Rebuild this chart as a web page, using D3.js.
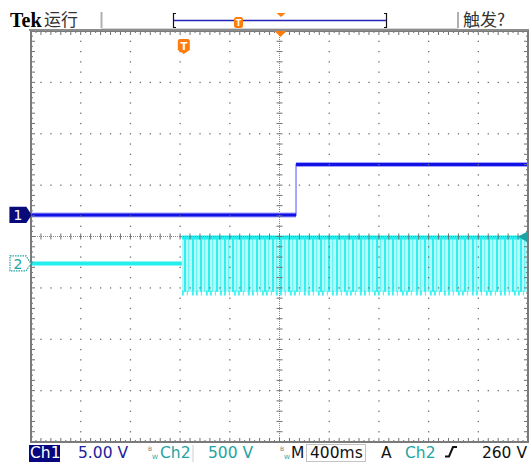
<!DOCTYPE html>
<html>
<head>
<meta charset="utf-8">
<script src="https://cdn.jsdelivr.net/npm/d3@7"></script>
<style>
  body { margin: 0; background: #fff; }
  svg { display: block; }
</style>
</head>
<body>
<svg id="scope" width="530" height="462"></svg>
<script>
// ---- Acquisition settings ----
const timePerDiv = 0.4;              // s/div  (M 400ms)
const timeWindow = [-1.23, 2.77];    // s, relative to trigger
const hDivs = 10, vDivs = 8;

// Channel 1: 5 V/div, ground marker 0.42 div above centre
const ch1VoltsPerDiv = 5;
const ch1Position = 0.42;            // div
const ch1Time  = [-1.23, 0.903, 2.77];
const ch1Volts = [0,     4.9,   4.9];

// Channel 2: 500 V/div, ground marker 0.525 div below centre
const ch2VoltsPerDiv = 500;
const ch2Position = -0.525;          // div
const ch2IdleTime  = [-1.23, -0.016];
const ch2IdleVolts = [0, 0];
const ch2SwitchStart = -0.016;       // s
const ch2SwitchEnd   = 2.77;         // s
const ch2SwitchHigh  = 267;          // V
const ch2SwitchLow   = -277;         // V

// Trigger
const triggerSource = "Ch2";
const triggerLevel  = 260;           // V

// Status texts
const statusLeft  = ["Tek", "运行"];
const statusRight = "触发?";

// ---- Layout ----
const L = 31, R = 528, T = 31, B = 442;
const svg = d3.select("#scope");

const x  = d3.scaleLinear().domain(timeWindow).range([L, R]);
const y1 = d3.scaleLinear()
  .domain([(-vDivs / 2 - ch1Position) * ch1VoltsPerDiv, (vDivs / 2 - ch1Position) * ch1VoltsPerDiv])
  .range([B, T]);
const y2 = d3.scaleLinear()
  .domain([(-vDivs / 2 - ch2Position) * ch2VoltsPerDiv, (vDivs / 2 - ch2Position) * ch2VoltsPerDiv])
  .range([B, T]);
const gx = d3.scaleLinear().domain([0, hDivs]).range([L, R]);
const gy = d3.scaleLinear().domain([0, vDivs]).range([T, B]);

const C1 = "#1212e6", C1dark = "#0a0a7a", C2 = "#22eeee", C2text = "#1ea3a3", ORANGE = "#ff7d0a";

// ---- Stripe texture for the fast Ch2 switching ----
const defs = svg.append("defs");
const pat = defs.append("pattern")
  .attr("id", "ch2fill").attr("patternUnits", "userSpaceOnUse")
  .attr("width", 8).attr("height", 80);
pat.append("rect").attr("width", 8).attr("height", 80).attr("fill", "#b6f7f7");
pat.append("rect").attr("x", 0).attr("width", 2).attr("height", 80).attr("fill", "#2ff0f0");
pat.append("rect").attr("x", 4).attr("width", 1.2).attr("height", 80).attr("fill", "#6af3f3");

// ---- Traces ----
const traces = svg.append("g");

// Ch2 idle level
const line2 = d3.line().x((d, i) => x(ch2IdleTime[i])).y(d => y2(d));
traces.append("path").attr("d", line2(ch2IdleVolts))
  .attr("fill", "none").attr("stroke", "#8ff6f6").attr("stroke-width", 5);
traces.append("path").attr("d", line2(ch2IdleVolts))
  .attr("fill", "none").attr("stroke", C2).attr("stroke-width", 3);

// Ch2 switching band
traces.append("rect")
  .attr("x", x(ch2SwitchStart)).attr("width", x(ch2SwitchEnd) - x(ch2SwitchStart))
  .attr("y", y2(ch2SwitchHigh)).attr("height", y2(ch2SwitchLow) - y2(ch2SwitchHigh))
  .attr("fill", "url(#ch2fill)");
traces.append("line")
  .attr("x1", x(ch2SwitchStart)).attr("x2", x(ch2SwitchEnd))
  .attr("y1", y2(ch2SwitchHigh) + 1.5).attr("y2", y2(ch2SwitchHigh) + 1.5)
  .attr("stroke", C2).attr("stroke-width", 4);
traces.append("line")
  .attr("x1", x(ch2SwitchStart)).attr("x2", x(ch2SwitchEnd))
  .attr("y1", y2(ch2SwitchLow) + 1).attr("y2", y2(ch2SwitchLow) + 1)
  .attr("stroke", "#45f0f0").attr("stroke-width", 5).attr("stroke-dasharray", "2 3 1 4 2 2");

// Ch1 step: faint transition edge, then the settled levels drawn heavy
const line1 = d3.line().curve(d3.curveStepAfter).x((d, i) => x(ch1Time[i])).y(d => y1(d));
traces.append("path").attr("d", line1(ch1Volts))
  .attr("fill", "none").attr("stroke", "#8c8cff").attr("stroke-width", 1.5);
const ch1Levels = ch1Volts.slice(0, -1).map((v, i) => ({ t0: ch1Time[i], t1: ch1Time[i + 1], v }));
traces.selectAll("line.halo").data(ch1Levels).join("line").attr("class", "halo")
  .attr("x1", d => x(d.t0)).attr("x2", d => x(d.t1)).attr("y1", d => y1(d.v)).attr("y2", d => y1(d.v))
  .attr("stroke", "#6a6aff").attr("stroke-width", 5).attr("opacity", 0.6);
traces.selectAll("line.lvl").data(ch1Levels).join("line").attr("class", "lvl")
  .attr("x1", d => x(d.t0)).attr("x2", d => x(d.t1)).attr("y1", d => y1(d.v)).attr("y2", d => y1(d.v))
  .attr("stroke", C1).attr("stroke-width", 3);

// ---- Graticule ----
const grid = svg.append("g");
const dotColor = "#6e6e6e";
// dotted division lines
for (let i = 1; i < hDivs; i++) {
  if (i === hDivs / 2) continue;
  for (let j = 1; j < vDivs * 5; j++) {
    grid.append("rect").attr("x", gx(i) - 0.6).attr("y", gy(j / 5) - 0.6)
      .attr("width", 1.3).attr("height", 1.3).attr("fill", dotColor);
  }
}
for (let j = 1; j < vDivs; j++) {
  if (j === vDivs / 2) continue;
  for (let i = 1; i < hDivs * 5; i++) {
    if (i % 5 === 0) continue;
    grid.append("rect").attr("x", gx(i / 5) - 0.6).attr("y", gy(j) - 0.6)
      .attr("width", 1.3).attr("height", 1.3).attr("fill", dotColor);
  }
}
// centre cross with ticks
grid.append("line").attr("x1", L).attr("x2", R).attr("y1", gy(vDivs / 2)).attr("y2", gy(vDivs / 2))
  .attr("stroke", "#8a8a8a").attr("stroke-width", 1).attr("stroke-dasharray", "1 1");
grid.append("line").attr("y1", T).attr("y2", B).attr("x1", gx(hDivs / 2)).attr("x2", gx(hDivs / 2))
  .attr("stroke", "#8a8a8a").attr("stroke-width", 1).attr("stroke-dasharray", "1 1");
for (let i = 1; i < hDivs * 5; i++) {
  grid.append("line").attr("x1", gx(i / 5)).attr("x2", gx(i / 5))
    .attr("y1", gy(vDivs / 2) - 3).attr("y2", gy(vDivs / 2) + 3)
    .attr("stroke", "#707070").attr("stroke-width", 1);
}
for (let j = 1; j < vDivs * 5; j++) {
  grid.append("line").attr("y1", gy(j / 5)).attr("y2", gy(j / 5))
    .attr("x1", gx(hDivs / 2) - 3).attr("x2", gx(hDivs / 2) + 3)
    .attr("stroke", "#707070").attr("stroke-width", 1);
}
// edge rulers
for (let i = 1; i < hDivs * 10; i++) {
  const len = i % 2 === 0 ? 4 : 2;
  grid.append("line").attr("x1", gx(i / 10)).attr("x2", gx(i / 10)).attr("y1", T).attr("y2", T + len)
    .attr("stroke", "#707070").attr("stroke-width", 1);
  grid.append("line").attr("x1", gx(i / 10)).attr("x2", gx(i / 10)).attr("y1", B).attr("y2", B - len)
    .attr("stroke", "#707070").attr("stroke-width", 1);
}
for (let j = 1; j < vDivs * 10; j++) {
  const len = j % 2 === 0 ? 4 : 2;
  grid.append("line").attr("y1", gy(j / 10)).attr("y2", gy(j / 10)).attr("x1", L).attr("x2", L + len)
    .attr("stroke", "#707070").attr("stroke-width", 1);
  grid.append("line").attr("y1", gy(j / 10)).attr("y2", gy(j / 10)).attr("x1", R).attr("x2", R - len)
    .attr("stroke", "#707070").attr("stroke-width", 1);
}
// frame
grid.append("rect").attr("x", L).attr("y", T).attr("width", R - L).attr("height", B - T)
  .attr("fill", "none").attr("stroke", "#7a7a7a").attr("stroke-width", 2);
grid.append("line").attr("x1", L - 2).attr("x2", R + 1).attr("y1", T - 1).attr("y2", T - 1)
  .attr("stroke", "#8c8c8c").attr("stroke-width", 2);

// ---- Markers ----
const mk = svg.append("g");
// channel ground markers
function chMarker(yc, label, fill, stroke, textColor, dashed) {
  const p = `M10,${yc - 7.5} H26 L${L},${yc} L26,${yc + 7.5} H10 Z`;
  mk.append("path").attr("d", p).attr("fill", fill).attr("stroke", stroke)
    .attr("stroke-width", 1.2).attr("stroke-dasharray", dashed ? "1.5 1" : null);
  mk.append("text").attr("x", 18).attr("y", yc + 5.5).attr("text-anchor", "middle")
    .attr("font-family", "DejaVu Sans").attr("font-size", 14).attr("fill", textColor).text(label);
}
chMarker(y1(0), "1", C1dark, C1dark, "#fff", false);
chMarker(y2(0), "2", "#fff", C2text, C2text, true);

// trigger point marker
const tx = x(0);
mk.append("path")
  .attr("d", `M${tx - 6},41 Q${tx - 6},39 ${tx - 4},39 H${tx + 4} Q${tx + 6},39 ${tx + 6},41 V50 L${tx},54 L${tx - 6},50 Z`)
  .attr("fill", ORANGE);
mk.append("text").attr("x", tx).attr("y", 50).attr("text-anchor", "middle")
  .attr("font-family", "DejaVu Sans").attr("font-weight", "bold").attr("font-size", 10)
  .attr("fill", "#fff").text("T");

// horizontal position marker
const hx = gx(hDivs / 2) + 1;
mk.append("path").attr("d", `M${hx - 6},${T} L${hx + 6},${T} L${hx},${T + 6} Z`).attr("fill", ORANGE);

// trigger level arrow
const ty = y2(triggerLevel);
mk.append("path").attr("d", `M${R - 1},${ty - 5} L${R - 1},${ty + 5} L${R - 10},${ty} Z`).attr("fill", C2text);

// ---- Status bar (top) ----
const head = svg.append("g");
head.append("text").attr("x", 10).attr("y", 27).attr("font-family", "Liberation Serif")
  .attr("font-weight", "bold").attr("font-size", 20).attr("fill", "#000").text(statusLeft[0]);
head.append("text").attr("x", 44).attr("y", 26).attr("font-family", "Noto Sans CJK SC")
  .attr("font-size", 17).attr("fill", "#333").text(statusLeft[1]);
head.append("text").attr("x", 463).attr("y", 26).attr("font-family", "Noto Sans CJK SC")
  .attr("font-size", 17).attr("fill", "#333").text(statusRight);
[101.5, 458].forEach(sx => head.append("line").attr("x1", sx).attr("x2", sx).attr("y1", 12).attr("y2", 28)
  .attr("stroke", "#b0b0b0").attr("stroke-width", 2));
head.append("line").attr("x1", 101).attr("x2", 458).attr("y1", 28.5).attr("y2", 28.5)
  .attr("stroke", "#d6d6d6").attr("stroke-width", 1);
// record view
head.append("path").attr("d", "M176,13.5 H173.5 V27.5 H176").attr("fill", "none").attr("stroke", "#111").attr("stroke-width", 1.2);
head.append("path").attr("d", "M384,13.5 H386.5 V27.5 H384").attr("fill", "none").attr("stroke", "#111").attr("stroke-width", 1.2);
head.append("line").attr("x1", 174).attr("x2", 386).attr("y1", 20.5).attr("y2", 20.5)
  .attr("stroke", "#2424b8").attr("stroke-width", 1.5);
head.append("rect").attr("x", 234).attr("y", 17).attr("width", 9).attr("height", 11).attr("rx", 2.5).attr("fill", ORANGE);
head.append("text").attr("x", 238.5).attr("y", 26).attr("text-anchor", "middle").attr("font-family", "DejaVu Sans")
  .attr("font-weight", "bold").attr("font-size", 8).attr("fill", "#fff").text("T");
head.append("path").attr("d", "M276.5,13 L285.5,13 L281,17 Z").attr("fill", ORANGE);

// ---- Readout bar (bottom) ----
const bot = svg.append("g").attr("font-family", "DejaVu Sans").attr("font-size", 15.5);
const BY = 458;
bot.append("rect").attr("x", 29).attr("y", 445).attr("width", 31).attr("height", 17).attr("fill", "#06067e");
bot.append("text").attr("x", 30).attr("y", BY).attr("fill", "#fff").text("Ch1");
bot.append("text").attr("x", 78).attr("y", BY).attr("fill", "#22229e")
  .text(d3.format(".2f")(ch1VoltsPerDiv) + " V");
function bwMark(bx) {
  bot.append("text").attr("x", bx).attr("y", 451).attr("font-size", 6).attr("fill", "#777").text("B");
  bot.append("text").attr("x", bx + 4).attr("y", 459).attr("font-size", 6).attr("fill", C2text).text("W");
}
bwMark(148);
bot.append("text").attr("x", 160).attr("y", BY).attr("fill", C2text).text("Ch2");
bot.append("line").attr("x1", 193).attr("x2", 193).attr("y1", 445).attr("y2", 462).attr("stroke", "#cfcfcf");
bot.append("text").attr("x", 208).attr("y", BY).attr("fill", C2text).text(ch2VoltsPerDiv + " V");
bwMark(280);
bot.append("text").attr("x", 291).attr("y", BY).attr("fill", "#111").text("M");
bot.append("rect").attr("x", 306.5).attr("y", 444.5).attr("width", 59).attr("height", 17)
  .attr("fill", "none").attr("stroke", "#c4c4c4");
bot.append("text").attr("x", 310).attr("y", BY).attr("fill", "#111").text(timePerDiv * 1000 + "ms");
bot.append("text").attr("x", 381).attr("y", BY).attr("fill", "#111").text("A");
bot.append("text").attr("x", 405).attr("y", BY).attr("fill", C2text).text(triggerSource);
bot.append("path").attr("d", "M445,456.5 H449 L453,447 H457").attr("fill", "none")
  .attr("stroke", "#111").attr("stroke-width", 2);
bot.append("text").attr("x", 527).attr("y", BY).attr("text-anchor", "end").attr("fill", "#111").text(triggerLevel + " V");
</script>
</body>
</html>
